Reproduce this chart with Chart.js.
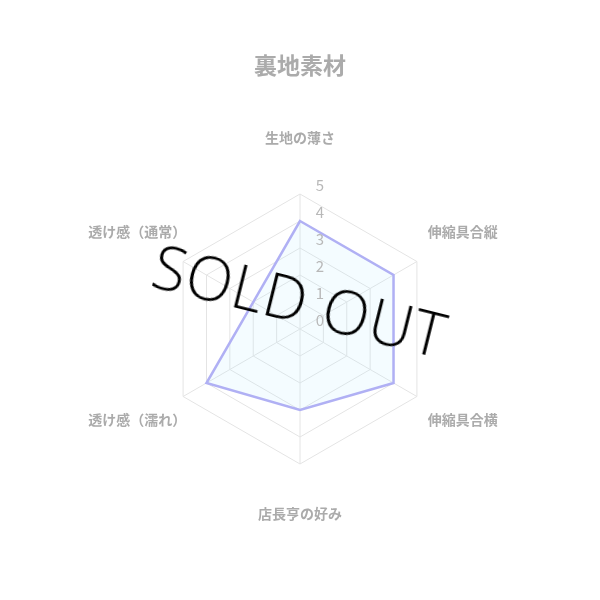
<!DOCTYPE html>
<html>
<head>
<meta charset="utf-8">
<script src="https://cdn.jsdelivr.net/npm/chart.js@4/dist/chart.umd.min.js"></script>
<style>
  html, body { margin: 0; padding: 0; background: #fff; }
  #wrap { position: relative; width: 600px; height: 600px; }
  #soldout {
    position: absolute; left: 100px; top: 262px; width: 400px; height: 76px;
    line-height: 76px; text-align: center; white-space: nowrap;
    font-family: "Open Sans", sans-serif; font-size: 61px; font-weight: 300;
    letter-spacing: 1px;
    color: #000; transform: rotate(14deg); transform-origin: 50% 50%;
  }
</style>
</head>
<body>
<div id="wrap">
  <canvas id="radar" width="600" height="600"></canvas>
  <div id="soldout">SOLD OUT</div>
</div>
<script>
// chart data
var titleText = '裏地素材';
var axisLabels = ['生地の薄さ', '伸縮具合縦', '伸縮具合横', '店長亨の好み', '透け感（濡れ）', '透け感（通常）'];
var scoreValues = [4, 4, 4, 3, 4, 2];
var tickLabels = ['0', '1', '2', '3', '4', '5'];

var jpFont = '"Noto Sans CJK JP", "Noto Sans", sans-serif';

// labels are drawn centred on their axis, ticks sit beside the vertical axis
var labelPlugin = {
    id: 'radarLabels',
    afterDatasetsDraw: function (chart) {
        var scale = chart.scales.r;
        var ctx = chart.ctx;
        ctx.save();
        ctx.textAlign = 'center';
        ctx.textBaseline = 'middle';

        ctx.font = '15px ' + jpFont;
        ctx.fillStyle = '#b8b8b8';
        scale.ticks.forEach(function (t, i) {
            var d = scale.getDistanceFromCenterForValue(t.value);
            ctx.fillText(tickLabels[i], scale.xCenter + 20, scale.yCenter - d - 9);
        });

        ctx.font = 'bold 14px ' + jpFont;
        ctx.fillStyle = '#ababab';
        axisLabels.forEach(function (lbl, i) {
            var p = scale.getPointPosition(i, scale.drawingArea + 53);
            ctx.fillText(lbl, p.x, p.y - 3);
        });
        ctx.restore();
    }
};

var ctx = document.getElementById('radar');
new Chart(ctx, {
    type: 'radar',
    data: {
        labels: axisLabels,
        datasets: [{
            label: titleText,
            data: scoreValues,
            borderColor: '#b0b0f4',
            backgroundColor: 'rgba(170,230,255,0.13)',
            borderWidth: 2.5,
            pointRadius: 0,
            pointHoverRadius: 0,
            fill: true
        }]
    },
    options: {
        responsive: false,
        animation: false,
        layout: { padding: { top: 41, bottom: 135, left: 0, right: 0 } },
        plugins: {
            legend: { display: false },
            tooltip: { enabled: false },
            title: {
                display: true,
                text: titleText,
                color: '#ababab',
                font: { family: jpFont, size: 23, weight: 'bold' },
                padding: { top: 10, bottom: 116 }
            }
        },
        scales: {
            r: {
                min: 0,
                max: 5,
                ticks: { stepSize: 1, display: false },
                grid: { color: '#e4e4e4', lineWidth: 1 },
                angleLines: { color: '#e4e4e4', lineWidth: 1 },
                pointLabels: { display: false }
            }
        }
    },
    plugins: [labelPlugin]
});
</script>
</body>
</html>
